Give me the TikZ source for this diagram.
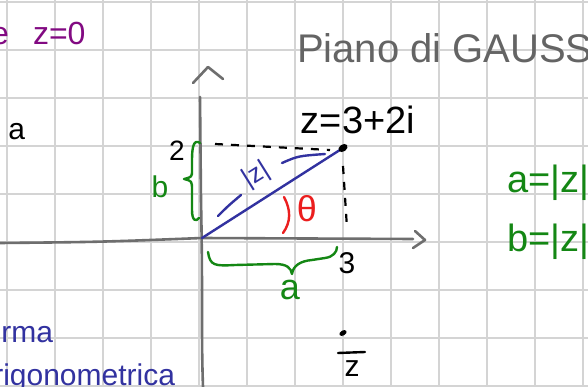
\documentclass[tikz,border=0pt]{standalone}
\usepackage{fontspec}
\setmainfont{Liberation Sans}
\definecolor{gridc}{RGB}{212,212,212}
\definecolor{axisc}{RGB}{110,110,110}
\definecolor{titlec}{RGB}{100,100,100}
\definecolor{purp}{RGB}{130,10,130}
\definecolor{grn}{RGB}{20,135,20}
\definecolor{blu}{RGB}{50,50,160}
\definecolor{rd}{RGB}{235,30,30}
\tikzset{
  gridline/.style={draw=gridc, line width=1.6pt},
  axisline/.style={draw=axisc, line width=2.6pt, line cap=round, line join=round},
  dashline/.style={draw=black, line width=2.2pt, dash pattern=on 8pt off 8pt},
  pen/.style={line width=2.4pt, line cap=round, line join=round},
  txt/.style={inner sep=0pt, outer sep=0pt},
}
\newcommand{\fs}[1]{\fontsize{#1}{#1}\selectfont}
\begin{document}
\begin{tikzpicture}[x=1pt,y=-1pt]
\useasboundingbox (0,0) rectangle (588,387);
\clip (0,0) rectangle (588,387);
\fill[white] (0,0) rectangle (588,387);
% grid paper
\foreach \i in {0,...,12} \draw[gridline] ({7+48*\i},0) -- ({7+48*\i},387);
\foreach \j in {0,...,8} \draw[gridline] (0,{2+48*\j}) -- (588,{2+48*\j});
% coordinates
\coordinate (O) at (202,238);
\coordinate (P) at (343,148);
\coordinate (xl) at (0,243);
\coordinate (xr) at (413,239);
\coordinate (yt) at (200,97);
\coordinate (yb) at (203,387);
\coordinate (dh1) at (215,144);
\coordinate (dh2) at (330,150);
\coordinate (dv1) at (343,166);
\coordinate (dv2) at (347,228);
% axes
\draw[axisline] (xl) .. controls (100,242) .. (O) -- (xr);
\draw[axisline] (415,231) -- (425,240) -- (413,248);
\draw[axisline] (yb) .. controls (201,330) and (203,300) .. (201,200) -- (yt);
\draw[axisline] (193,83) -- (208,67) -- (223,79);
% dashed projections
\draw[dashline] (dh1) -- (dh2);
\draw[dashline] (dv1) -- (dv2);
% modulus
\draw[pen, draw=blu] (O) -- (P);
\fill[black, rotate around={-55:(P)}] (P) ellipse (3.5 and 5);
\draw[pen, draw=blu] (218,216) .. controls (228,206) .. (241,195);
\node[txt, text=blu, rotate=32] (modz) at (256,175) {\fs{26}|z|};
\draw[pen, draw=blu] (282,163) .. controls (298,156) .. (325,154);
% angle
\draw[pen, draw=rd] (284,197) .. controls (291,210) and (291,222) .. (283,233);
\node[txt, text=rd] (theta) at (307,209) {\fs{36}θ};
% braces
\draw[pen, draw=grn] (200,143) .. controls (194,139) and (192,146) .. (192,160) -- (192,170)
  .. controls (192,177) .. (184,179) .. controls (192,181) .. (192,190) -- (192,210)
  .. controls (192,221) and (196,222) .. (199,218);
\draw[pen, draw=grn] (208,252) .. controls (210,266) and (215,266) .. (235,265) -- (275,264)
  .. controls (287,264) and (291,268) .. (292,274) .. controls (293,266) and (300,261) .. (312,260)
  -- (325,258) .. controls (333,257) and (337,252) .. (337,247);
% labels on the plane
\node[txt] (zval) at (358,120) {\fs{38}z=3+2i};
\node[txt] (two) at (177,151) {\fs{28}2};
\node[txt] (three) at (347,263) {\fs{30}3};
\node[txt, text=grn] (blab) at (160,187) {\fs{30}b};
\node[txt, text=grn] (alab) at (290,290) {\fs{36}a};
% conjugate
\coordinate (Q) at (343,333);
\fill[black, rotate around={-60:(Q)}] (Q) ellipse (2.5 and 4);
\coordinate (bar1) at (338,353);
\coordinate (bar2) at (365,352);
\draw[pen, draw=black] (bar1) -- (bar2);
\node[txt] (zbar) at (352,369) {\fs{30}z};
% title and side notes
\node[txt, text=titlec, anchor=base west] (title) at (297,63) {\fs{40}Piano di GAUSS};
\node[txt, text=purp, anchor=base west] (zzero) at (33,45) {\fs{32}z=0};
\node[txt, text=purp, anchor=base east] (epart) at (9,45) {\fs{32}e};
\node[txt, anchor=base east] (apart) at (25,140) {\fs{30}a};
\node[txt, text=grn, anchor=base west] (aeq) at (507,193) {\fs{38}a=|z|};
\node[txt, text=grn, anchor=base west] (beq) at (507,251) {\fs{38}b=|z|};
\node[txt, text=blu, anchor=base east] (forma) at (53,342) {\fs{30}forma};
\node[txt, text=blu, anchor=base east] (trig) at (175,385) {\fs{30}trigonometrica};
\end{tikzpicture}
\end{document}
